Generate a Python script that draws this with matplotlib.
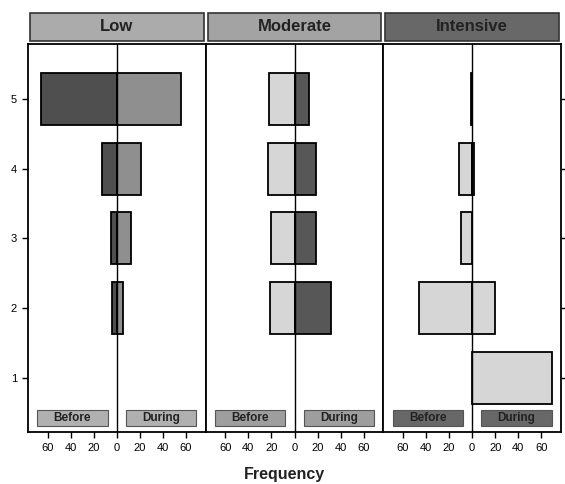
import matplotlib.pyplot as plt
from matplotlib.patches import Rectangle

levels = [1, 2, 3, 4, 5]
panels = ['Low', 'Moderate', 'Intensive']

# frequencies, per activity level 1..5
low_before = [0, 4.5, 5, 12.5, 66]
low_during = [0, 5.5, 12, 21, 56]
mod_before = [0, 21, 20, 23, 22]
mod_during = [0, 32, 19, 19, 13]
int_before = [0, 46, 10, 11, 1]
int_during = [69, 20, 0, 2, 0]

before = [low_before, mod_before, int_before]
during = [low_during, mod_during, int_during]

bar_cols = [('#4f4f4f', '#8f8f8f'), ('#d6d6d6', '#575757'), ('#d6d6d6', '#d6d6d6')]
strip_cols = ['#ababab', '#a3a3a3', '#686868']
key_cols = ['#b0b0b0', '#9e9e9e', '#686868']

plt.rcParams['font.family'] = ['Liberation Sans', 'DejaVu Sans']

fig = plt.figure(figsize=(5.65, 4.84), dpi=100)
W, H = 565, 484
left, right, bottom, top = 28, 561, 432, 44
pw = (right - left) / 3

for i, name in enumerate(panels):
    ax = fig.add_axes([(left + i * pw) / W, 1 - bottom / H, pw / W, (bottom - top) / H])
    bc, dc = bar_cols[i]
    # skip empty cells so no zero-width outlines get drawn
    yb = [l for l, v in zip(levels, before[i]) if v > 0]
    vb = [-v for v in before[i] if v > 0]
    yd = [l for l, v in zip(levels, during[i]) if v > 0]
    vd = [v for v in during[i] if v > 0]
    ax.barh(yb, vb, height=0.75, color=bc, edgecolor='black', linewidth=1.3)
    ax.barh(yd, vd, height=0.75, color=dc, edgecolor='black', linewidth=1.3)
    ax.axvline(0, color='black', lw=1.0)
    ax.set_xlim(-77, 77)
    ax.set_ylim(0.22, 5.79)
    ax.set_xticks([-60, -40, -20, 0, 20, 40, 60])
    ax.set_xticklabels(['60', '40', '20', '0', '20', '40', '60'], fontsize=8)
    ax.tick_params(direction='out', length=4, width=1, pad=4)
    if i == 0:
        ax.set_yticks(levels)
        ax.set_yticklabels([str(l) for l in levels], fontsize=8)
    elif i == 2:
        ax.set_yticks(levels)
        ax.yaxis.tick_right()
        ax.set_yticklabels([])
    else:
        ax.set_yticks([])
    for s in ax.spines.values():
        s.set_linewidth(1.3)

    # Before / During key boxes
    for x0, lab in [(-69, 'Before'), (8, 'During')]:
        ax.add_patch(Rectangle((x0, 0.30), 61, 0.24, facecolor=key_cols[i],
                               edgecolor='#555555', lw=0.8, zorder=3))
        ax.text(x0 + 30.5, 0.42, lab, ha='center', va='center', fontsize=8.5,
                fontweight='bold', color='#222222', zorder=4)

    # strip header
    ax.add_patch(Rectangle((0.012, 1.008), 0.976, 0.072, transform=ax.transAxes,
                           facecolor=strip_cols[i], edgecolor='#333333', lw=1.2, clip_on=False))
    ax.text(0.5, 1.045, name, transform=ax.transAxes, ha='center', va='center',
            fontsize=12, fontweight='bold', color='#222222')

fig.text(284 / W, 1 - 474 / H, 'Frequency', ha='center', va='center', fontsize=11.5,
         fontweight='bold', color='#222222')

fig.savefig('out.png', dpi=100)
